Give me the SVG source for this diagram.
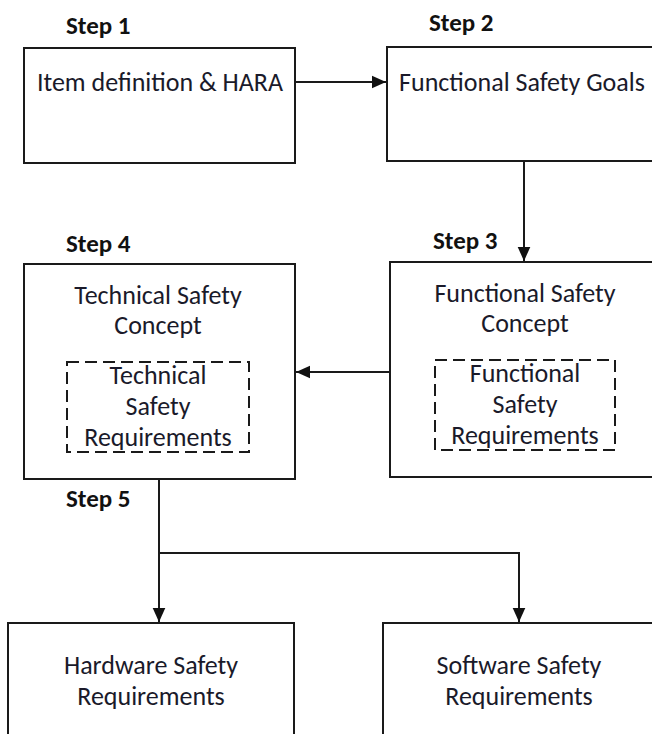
<svg xmlns="http://www.w3.org/2000/svg" width="652" height="734" viewBox="0 0 652 734">
<defs>
<style>
.box{fill:#fff;stroke:#1a1a1a;stroke-width:2}
.dash{fill:none;stroke:#1a1a1a;stroke-width:2;stroke-dasharray:12 6}
.t{font-family:Carlito,Calibri,Lato,"Liberation Sans",sans-serif;font-size:26px;fill:#1a1a2a;text-anchor:middle}
.s{font-family:Carlito,Calibri,Lato,"Liberation Sans",sans-serif;font-size:25px;font-weight:bold;fill:#111}
.c{fill:none;stroke:#1a1a1a;stroke-width:2}
</style>
<marker id="ah" viewBox="0 0 10 10" refX="10" refY="5" markerWidth="7" markerHeight="7" markerUnits="strokeWidth" orient="auto">
<path d="M0,0.5 L10,5 L0,9.5 z" fill="#111"/>
</marker>
</defs>
<rect width="652" height="734" fill="#fff"/>
<g id="step1">
<text class="s" x="66" y="34">Step 1</text>
<rect class="box" x="24" y="48" width="271" height="115"/>
<text class="t" x="160" y="91">Item definition &amp; HARA</text>
</g>
<g id="step2">
<text class="s" x="429" y="31">Step 2</text>
<rect class="box" x="387" y="47" width="280" height="114"/>
<text class="t" x="522" y="91">Functional Safety Goals</text>
</g>
<g id="step3">
<text class="s" x="433" y="249">Step 3</text>
<rect class="box" x="390" y="262" width="280" height="215"/>
<text class="t" x="525" y="302">Functional Safety</text>
<text class="t" x="525" y="332">Concept</text>
<rect class="dash" x="435" y="360" width="180" height="90"/>
<text class="t" x="525" y="382">Functional</text>
<text class="t" x="525" y="413">Safety</text>
<text class="t" x="525" y="444">Requirements</text>
</g>
<g id="step4">
<text class="s" x="66" y="252">Step 4</text>
<rect class="box" x="24" y="264" width="271" height="215"/>
<text class="t" x="158" y="304">Technical Safety</text>
<text class="t" x="158" y="334">Concept</text>
<rect class="dash" x="67" y="362" width="182" height="90"/>
<text class="t" x="158" y="384">Technical</text>
<text class="t" x="158" y="415">Safety</text>
<text class="t" x="158" y="446">Requirements</text>
</g>
<g id="step5">
<text class="s" x="66" y="507">Step 5</text>
</g>
<g id="hw">
<rect class="box" x="8" y="623" width="286" height="130"/>
<text class="t" x="151" y="674">Hardware Safety</text>
<text class="t" x="151" y="705">Requirements</text>
</g>
<g id="sw">
<rect class="box" x="383" y="623" width="290" height="130"/>
<text class="t" x="519" y="674">Software Safety</text>
<text class="t" x="519" y="705">Requirements</text>
</g>
<g id="connectors">
<path class="c" d="M295,82 H386" marker-end="url(#ah)"/>
<path class="c" d="M524,161 V261" marker-end="url(#ah)"/>
<path class="c" d="M390,372 H296" marker-end="url(#ah)"/>
<path class="c" d="M159,479 V622" marker-end="url(#ah)"/>
<path class="c" d="M159,553 H519 V622" marker-end="url(#ah)"/>
</g>
</svg>
